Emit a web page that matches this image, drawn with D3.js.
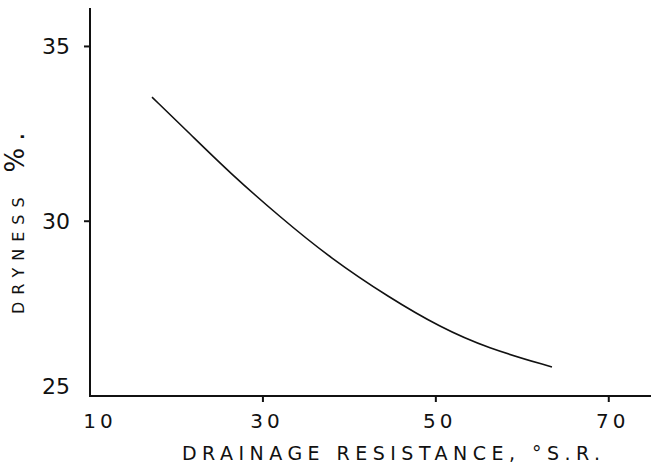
<!DOCTYPE html>
<html><head><meta charset="utf-8">
<script src="https://cdn.jsdelivr.net/npm/d3@7"></script>
<style>
html,body{margin:0;padding:0;background:#fff;}
svg{display:block;}
text{font-family:"DejaVu Sans",sans-serif;fill:#111;}
</style></head>
<body>
<script>
const resistance = [17.17, 21.57, 26.19, 31.98, 37.77, 44.70, 50.48, 55.92, 63.43];
const dryness    = [33.55, 32.50, 31.38, 30.12, 28.95, 27.80, 26.97, 26.37, 25.83];
const xTicks = [10, 30, 50, 70];
const yTicks = [25, 30, 35];
const xTitle = "DRAINAGE  RESISTANCE,  °S.R.";
const yTitleWord = "DRYNESS";
const yTitleUnit = "%.";

const W = 651, H = 464;
const svg = d3.select("body").append("svg").attr("width", W).attr("height", H);

const x = d3.scaleLinear().domain([10, 75]).range([90, 652]);
const y = d3.scaleLinear().domain([25, 36.1]).range([396, 8]);

// axes
const ax = svg.append("g").attr("stroke", "#111").attr("stroke-width", 2).attr("fill", "none");
ax.append("path").attr("d", d3.line()([[x(10), y(36.1)], [x(10), y(25)], [x(75), y(25)]]));
ax.selectAll(".yt").data(yTicks.filter(d => d > 25)).enter().append("line")
  .attr("x1", x(10) - 6).attr("x2", x(10)).attr("y1", d => y(d)).attr("y2", d => y(d));
ax.selectAll(".xt").data(xTicks.filter(d => d > 10)).enter().append("line")
  .attr("x1", d => x(d)).attr("x2", d => x(d)).attr("y1", y(25)).attr("y2", y(25) + 6);

// tick labels
svg.selectAll(".ytl").data(yTicks).enter().append("text")
  .attr("x", x(10) - 20).attr("y", d => y(d) - (d === 25 ? 10 : 0))
  .attr("dy", "0.36em").attr("text-anchor", "end")
  .attr("font-size", 22).text(d => d);
svg.selectAll(".xtl").data(xTicks).enter().append("text")
  .attr("x", d => x(d) + (d === 10 ? 10 : 4)).attr("y", 428)
  .attr("text-anchor", "middle").attr("font-size", 20).attr("letter-spacing", 4)
  .text(d => d);

// titles
svg.append("text").attr("x", 182).attr("y", 460).attr("font-size", 19)
  .attr("textLength", 418).attr("lengthAdjust", "spacing").text(xTitle);
const yt = svg.append("text").attr("transform", "translate(24,314) rotate(-90)")
  .attr("font-size", 16).attr("letter-spacing", 7);
yt.append("tspan").text(yTitleWord);
yt.append("tspan").attr("dx", 18).attr("font-size", 26).text(yTitleUnit);

// curve
const pts = resistance.map((r, i) => [x(r), y(dryness[i])]);
svg.append("path").attr("d", d3.line().curve(d3.curveBasis)(pts))
  .attr("fill", "none").attr("stroke", "#111").attr("stroke-width", 1.6);
</script>
</body></html>
